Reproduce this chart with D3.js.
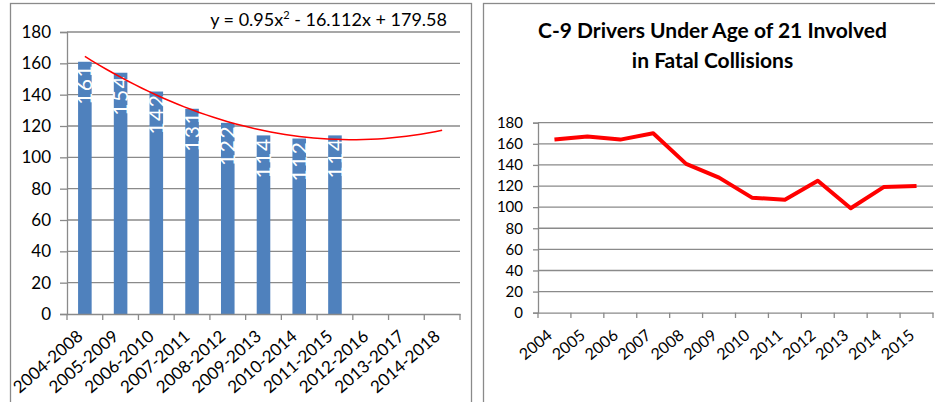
<!DOCTYPE html>
<html>
<head>
<meta charset="utf-8">
<script src="https://cdn.jsdelivr.net/npm/d3@7"></script>
<style>
body { margin: 0; background: #fff; }
svg { display: block; font-family: Lato, "Liberation Sans", sans-serif; }
</style>
</head>
<body>
<svg width="935" height="402"></svg>
<script>
// 5-year rolling totals (left) and yearly counts (right)
var periods = ["2004-2008", "2005-2009", "2006-2010", "2007-2011", "2008-2012", "2009-2013",
               "2010-2014", "2011-2015", "2012-2016", "2013-2017", "2014-2018"];
var rollingTotals = [161, 154, 142, 131, 122, 114, 112, 114];
var trendCoef = [0.95, -16.112, 179.58];   // y = a*x^2 + b*x + c, x = 1..11
var years = ["2004", "2005", "2006", "2007", "2008", "2009", "2010", "2011", "2012", "2013", "2014", "2015"];
var under21 = [164, 167, 164, 170, 141, 128, 109, 107, 125, 99, 119, 120];
var yTicks = [0, 20, 40, 60, 80, 100, 120, 140, 160, 180];
var chartTitle = ["C-9 Drivers Under Age of 21 Involved", "in Fatal Collisions"];

var svg = d3.select("svg");
var grid = "#8a8a8a";

// frames of the two charts
svg.append("rect").attr("x", 10.5).attr("y", 3.5).attr("width", 461).attr("height", 430)
    .attr("fill", "none").attr("stroke", grid).attr("stroke-width", 1.3);
svg.append("rect").attr("x", 483.5).attr("y", 3.5).attr("width", 470).attr("height", 430)
    .attr("fill", "none").attr("stroke", grid).attr("stroke-width", 1.3);

// ---------- left: bars + trend ----------
var left = svg.append("g");
var xL = d3.scaleBand().domain(periods).range([67, 460]).paddingInner(0.62).paddingOuter(0.31);
var xLb = d3.scaleBand().domain(periods).range([67, 460]);
var yL = d3.scaleLinear().domain([0, 180]).range([314, 32]);

left.selectAll(".grid").data(yTicks.slice(1)).enter().append("line")
    .attr("x1", 67).attr("x2", 460)
    .attr("y1", function(d) { return yL(d); }).attr("y2", function(d) { return yL(d); })
    .attr("stroke", grid).attr("stroke-width", 1.3);

left.selectAll(".bar").data(rollingTotals).enter().append("rect")
    .attr("x", function(d, i) { return xL(periods[i]); })
    .attr("width", xL.bandwidth())
    .attr("y", function(d) { return yL(d); })
    .attr("height", function(d) { return yL(0) - yL(d); })
    .attr("fill", "#4f81bd");

left.selectAll(".blabel").data(rollingTotals).enter().append("text")
    .attr("transform", function(d, i) {
        return "translate(" + (xL(periods[i]) + xL.bandwidth() / 2) + "," + (yL(d) + 2) + ") rotate(-90)";
    })
    .attr("dy", "0.36em")
    .attr("text-anchor", "end")
    .attr("fill", "#fff")
    .style("font-size", "21px")
    .style("letter-spacing", "1.5px")
    .text(function(d) { return d; });

// trend curve drawn from the equation shown on the chart
var xIdx = d3.scaleLinear().domain([1, 11])
    .range([xLb(periods[0]) + xLb.bandwidth() / 2, xLb(periods[10]) + xLb.bandwidth() / 2]);
var trendPts = d3.range(1, 11.001, 0.2).map(function(t) {
    return [t, trendCoef[0] * t * t + trendCoef[1] * t + trendCoef[2]];
});
left.append("path")
    .datum(trendPts)
    .attr("fill", "none").attr("stroke", "#ff0000").attr("stroke-width", 1.5)
    .attr("d", d3.line().x(function(d) { return xIdx(d[0]); }).y(function(d) { return yL(d[1]); }));

var eq = left.append("text").attr("x", 447).attr("y", 26).attr("text-anchor", "end")
    .style("font-size", "18px").attr("fill", "#000");
eq.append("tspan").text("y = " + trendCoef[0] + "x");
eq.append("tspan").attr("dy", -7).style("font-size", "11px").text("2");
eq.append("tspan").attr("dy", 7).text(" - " + Math.abs(trendCoef[1]) + "x + " + trendCoef[2]);

var axL = left.append("g").attr("transform", "translate(67,0)")
    .call(d3.axisLeft(yL).tickValues(yTicks).tickSize(7).tickPadding(9).tickFormat(d3.format("d")));
var axLx = left.append("g").attr("transform", "translate(0,314)")
    .call(d3.axisBottom(xLb).tickSize(0).tickFormat(""));
// boundary ticks like Excel
left.selectAll(".xt").data(d3.range(periods.length + 1)).enter().append("line")
    .attr("x1", function(i) { return 67 + i * xLb.step(); })
    .attr("x2", function(i) { return 67 + i * xLb.step(); })
    .attr("y1", 314).attr("y2", 320)
    .attr("stroke", grid).attr("stroke-width", 1.3);
left.selectAll(".xlabel").data(periods).enter().append("text")
    .attr("transform", function(d) {
        return "translate(" + (xLb(d) + xLb.bandwidth() / 2 - 1) + ",338) rotate(-41)";
    })
    .attr("text-anchor", "end")
    .style("font-size", "17px")
    .text(function(d) { return d; });

// ---------- right: line chart ----------
var right = svg.append("g");
var xR = d3.scaleBand().domain(years).range([538, 933]);
var yR = d3.scaleLinear().domain([0, 180]).range([312.7, 122.7]);

right.selectAll(".grid").data(yTicks.slice(1)).enter().append("line")
    .attr("x1", 538).attr("x2", 933)
    .attr("y1", function(d) { return yR(d); }).attr("y2", function(d) { return yR(d); })
    .attr("stroke", grid).attr("stroke-width", 1.3);

var axR = right.append("g").attr("transform", "translate(538,0)")
    .call(d3.axisLeft(yR).tickValues(yTicks).tickSize(5).tickPadding(10).tickFormat(d3.format("d")));
var axRx = right.append("g").attr("transform", "translate(0,312.7)")
    .call(d3.axisBottom(xR).tickSize(0).tickFormat(""));
right.selectAll(".xt").data(d3.range(years.length + 1)).enter().append("line")
    .attr("x1", function(i) { return 538 + i * xR.step(); })
    .attr("x2", function(i) { return 538 + i * xR.step(); })
    .attr("y1", 312.7).attr("y2", 318)
    .attr("stroke", grid).attr("stroke-width", 1.3);

right.append("path")
    .datum(under21)
    .attr("fill", "none").attr("stroke", "#ff0000").attr("stroke-width", 4)
    .attr("stroke-linejoin", "round")
    .attr("d", d3.line()
        .x(function(d, i) { return xR(years[i]) + xR.bandwidth() / 2; })
        .y(function(d) { return yR(d); }));

right.selectAll(".xlabel").data(years).enter().append("text")
    .attr("transform", function(d) {
        return "translate(" + (xR(d) + xR.bandwidth() / 2 - 1) + ",337) rotate(-40)";
    })
    .attr("text-anchor", "end")
    .style("font-size", "16px")
    .text(function(d) { return d; });

right.selectAll(".title").data(chartTitle).enter().append("text")
    .attr("x", 712.5).attr("y", function(d, i) { return 38 + i * 30; })
    .attr("text-anchor", "middle")
    .style("font-size", "21px").style("font-weight", "bold")
    .text(function(d) { return d; });

// axis styling
svg.selectAll(".domain").attr("stroke", grid).attr("stroke-width", 1.3);
svg.selectAll(".tick line").attr("stroke", grid).attr("stroke-width", 1.3);
axL.selectAll("text").style("font-size", "17px").attr("fill", "#000").style("font-family", "Lato");
axR.selectAll("text").style("font-size", "15px").attr("fill", "#000").style("font-family", "Lato");
</script>
</body>
</html>
